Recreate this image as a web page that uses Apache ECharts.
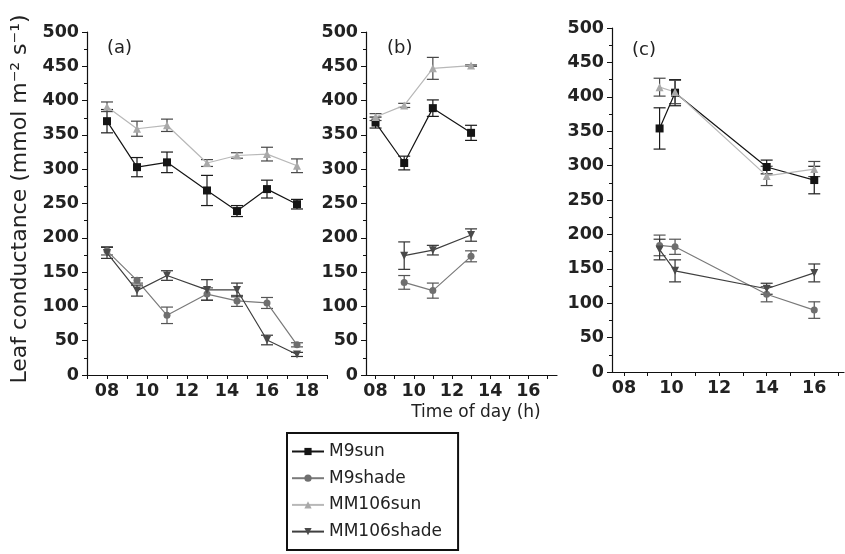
<!DOCTYPE html>
<html>
<head>
<meta charset="utf-8">
<script src="https://cdn.jsdelivr.net/npm/echarts@6/dist/echarts.min.js"></script>
<style>
  html, body { margin: 0; padding: 0; background: #fff; }
  #chart { width: 845px; height: 554px; }
</style>
</head>
<body>
<div id="chart"></div>
<script>
// Sampling times (h)
const hoursA = [8, 9.5, 11, 13, 14.5, 16, 17.5];
const hoursB = [8, 9.5, 11, 13];
const hoursBShade = [9.5, 11, 13];
const hoursC = [9.5, 10.15, 14, 16];

// Panel (a): means and standard errors
const m9SunA = [370, 303, 310, 269, 239, 271, 249];
const m9SunAErr = [17, 14, 15, 22, 8, 13, 7];
const m9ShadeA = [181, 138, 87, 118, 108, 105, 44];
const m9ShadeAErr = [6, 4, 12, 9, 8, 8, 3];
const mm106SunA = [391, 359, 364, 309, 320, 322, 305];
const mm106SunAErr = [7, 11, 9, 5, 4, 10, 10];
const mm106ShadeA = [178, 123, 145, 124, 124, 51, 30];
const mm106ShadeAErr = [8, 8, 7, 15, 10, 7, 3];

// Panel (b)
const m9SunB = [368, 309, 389, 353];
const m9SunBErr = [8, 10, 12, 11];
const mm106SunB = [376, 393, 447, 451];
const mm106SunBErr = [5, 3, 16, 1];
const m9ShadeB = [135, 123, 173];
const m9ShadeBErr = [10, 11, 8];
const mm106ShadeB = [174, 182, 204];
const mm106ShadeBErr = [20, 7, 9];

// Panel (c)
const m9SunC = [354, 406, 298, 279];
const m9SunCErr = [30, 19, 10, 20];
const mm106SunC = [414, 407, 285, 295];
const mm106SunCErr = [13, 17, 14, 11];
const m9ShadeC = [184, 182, 113, 90];
const m9ShadeCErr = [15, 11, 11, 12];
const mm106ShadeC = [178, 147, 121, 144];
const mm106ShadeCErr = [15, 16, 8, 13];

// Axis ticks and labels
const yTicks = [0, 50, 100, 150, 200, 250, 300, 350, 400, 450, 500];
const xLabelValues = [8, 10, 12, 14, 16, 18];
const seriesNames = ['M9sun', 'M9shade', 'MM106sun', 'MM106shade'];
const yTitle = 'Leaf conductance (mmol m\u207B\u00B2 s\u207B\u00B9)';
const xTitle = 'Time of day (h)';
const panelTags = ['(a)', '(b)', '(c)'];

const FONT = '"DejaVu Sans", sans-serif';

const styles = {
  M9sun:      { line: '#151515', mark: '#151515', err: '#1a1a1a', symbol: 'rect', size: 8, rot: 0 },
  M9shade:    { line: '#7a7a7a', mark: '#6f6f6f', err: '#555', symbol: 'circle', size: 7, rot: 0 },
  MM106sun:   { line: '#b8b8b8', mark: '#a9a9a9', err: '#474747', symbol: 'triangle', size: 8, rot: 0 },
  MM106shade: { line: '#3f3f3f', mark: '#4a4a4a', err: '#333', symbol: 'triangle', size: 8, rot: 180 }
};

function pairs(xs, ys) { return xs.map((x, i) => [x, ys[i]]); }
function triples(xs, ys, es) { return xs.map((x, i) => [x, ys[i], es[i]]); }

function lineSeries(name, idx, xs, ys) {
  const s = styles[name];
  return {
    type: 'line', name: name, xAxisIndex: idx, yAxisIndex: idx,
    data: pairs(xs, ys),
    symbol: s.symbol, symbolSize: s.size, symbolRotate: s.rot,
    lineStyle: { color: s.line, width: 1.2 },
    itemStyle: { color: s.mark },
    z: 3, animation: false
  };
}

function errSeries(name, idx, xs, ys, es) {
  const s = styles[name];
  return {
    type: 'custom', name: name + ' SE', xAxisIndex: idx, yAxisIndex: idx,
    data: triples(xs, ys, es),
    itemStyle: { color: s.err },
    z: 2, animation: false, silent: true,
    renderItem: function (params, api) {
      const x = api.value(0), y = api.value(1), e = api.value(2);
      const hi = api.coord([x, y + e]);
      const lo = api.coord([x, y - e]);
      const w = 6;
      const st = { stroke: s.err, lineWidth: 1.2 };
      return {
        type: 'group',
        children: [
          { type: 'line', shape: { x1: hi[0], y1: hi[1], x2: lo[0], y2: lo[1] }, style: st },
          { type: 'line', shape: { x1: hi[0] - w, y1: hi[1], x2: hi[0] + w, y2: hi[1] }, style: st },
          { type: 'line', shape: { x1: lo[0] - w, y1: lo[1], x2: lo[0] + w, y2: lo[1] }, style: st }
        ]
      };
    }
  };
}

const grids = [
  { left: 87, top: 32, width: 240, height: 343 },
  { left: 366, top: 32, width: 191, height: 343 },
  { left: 612, top: 28, width: 232, height: 344 }
];
const xRanges = [[7, 19], [7.5, 17.5], [7.5, 17.25]];

function range(a, b) { const r = []; for (let v = a; v <= b; v++) r.push(v); return r; }

const axisLine = { show: true, onZero: false, lineStyle: { color: '#111', width: 1.2 } };
const labelStyle = { fontFamily: FONT, fontWeight: 'bold', fontSize: 17.5, color: '#222' };

const xAxes = xRanges.map((r, i) => ({
  type: 'value', gridIndex: i, min: r[0], max: r[1],
  axisLine: axisLine,
  axisTick: { show: true, length: 4, lineStyle: { color: '#111' },
              customValues: range(Math.ceil(r[0]), Math.floor(r[1])) },
  axisLabel: Object.assign({ margin: 7,
              customValues: xLabelValues.filter(v => v <= r[1]),
              formatter: v => (v < 10 ? '0' : '') + v }, labelStyle),
  splitLine: { show: false }
}));

const yAxes = grids.map((g, i) => ({
  type: 'value', gridIndex: i, min: 0, max: 500, interval: 50,
  axisLine: axisLine,
  axisTick: { show: true, length: 5, lineStyle: { color: '#111' } },
  minorTick: { show: true, splitNumber: 2, length: 3, lineStyle: { color: '#111' } },
  axisLabel: Object.assign({ margin: 8, customValues: yTicks }, labelStyle),
  splitLine: { show: false }
}));

const series = [
  lineSeries('M9sun', 0, hoursA, m9SunA),
  lineSeries('M9shade', 0, hoursA, m9ShadeA),
  lineSeries('MM106sun', 0, hoursA, mm106SunA),
  lineSeries('MM106shade', 0, hoursA, mm106ShadeA),
  lineSeries('M9sun', 1, hoursB, m9SunB),
  lineSeries('M9shade', 1, hoursBShade, m9ShadeB),
  lineSeries('MM106sun', 1, hoursB, mm106SunB),
  lineSeries('MM106shade', 1, hoursBShade, mm106ShadeB),
  lineSeries('M9sun', 2, hoursC, m9SunC),
  lineSeries('M9shade', 2, hoursC, m9ShadeC),
  lineSeries('MM106sun', 2, hoursC, mm106SunC),
  lineSeries('MM106shade', 2, hoursC, mm106ShadeC),

  errSeries('M9sun', 0, hoursA, m9SunA, m9SunAErr),
  errSeries('M9shade', 0, hoursA, m9ShadeA, m9ShadeAErr),
  errSeries('MM106sun', 0, hoursA, mm106SunA, mm106SunAErr),
  errSeries('MM106shade', 0, hoursA, mm106ShadeA, mm106ShadeAErr),
  errSeries('M9sun', 1, hoursB, m9SunB, m9SunBErr),
  errSeries('M9shade', 1, hoursBShade, m9ShadeB, m9ShadeBErr),
  errSeries('MM106sun', 1, hoursB, mm106SunB, mm106SunBErr),
  errSeries('MM106shade', 1, hoursBShade, mm106ShadeB, mm106ShadeBErr),
  errSeries('M9sun', 2, hoursC, m9SunC, m9SunCErr),
  errSeries('M9shade', 2, hoursC, m9ShadeC, m9ShadeCErr),
  errSeries('MM106sun', 2, hoursC, mm106SunC, mm106SunCErr),
  errSeries('MM106shade', 2, hoursC, mm106ShadeC, mm106ShadeCErr)
];

const tagPos = [[107, 48], [387, 48], [632, 50]];

const chart = echarts.init(document.getElementById('chart'), null, { renderer: 'canvas' });
chart.setOption({
  backgroundColor: '#fff',
  animation: false,
  grid: grids,
  xAxis: xAxes,
  yAxis: yAxes,
  legend: {
    data: seriesNames,
    orient: 'vertical',
    left: 287, top: 433,
    padding: [10, 16, 10, 4],
    itemGap: 9.7,
    itemWidth: 32, itemHeight: 9,
    borderColor: '#111', borderWidth: 2, borderRadius: 0,
    textStyle: { fontFamily: FONT, fontSize: 17, color: '#222' },
    selectedMode: false
  },
  graphic: [
    {
      type: 'text', x: 20, y: 199, rotation: Math.PI / 2,
      style: { text: yTitle, fontFamily: FONT, fontSize: 22, fill: '#222',
               align: 'center', verticalAlign: 'middle' }
    },
    {
      type: 'text', x: 476, y: 413,
      style: { text: xTitle, fontFamily: FONT, fontSize: 17, fill: '#222',
               align: 'center', verticalAlign: 'middle' }
    }
  ].concat(panelTags.map((t, i) => ({
    type: 'text', x: tagPos[i][0], y: tagPos[i][1],
    style: { text: t, fontFamily: FONT, fontSize: 18, fill: '#222',
             align: 'left', verticalAlign: 'middle' }
  }))),
  series: series
});
</script>
</body>
</html>
